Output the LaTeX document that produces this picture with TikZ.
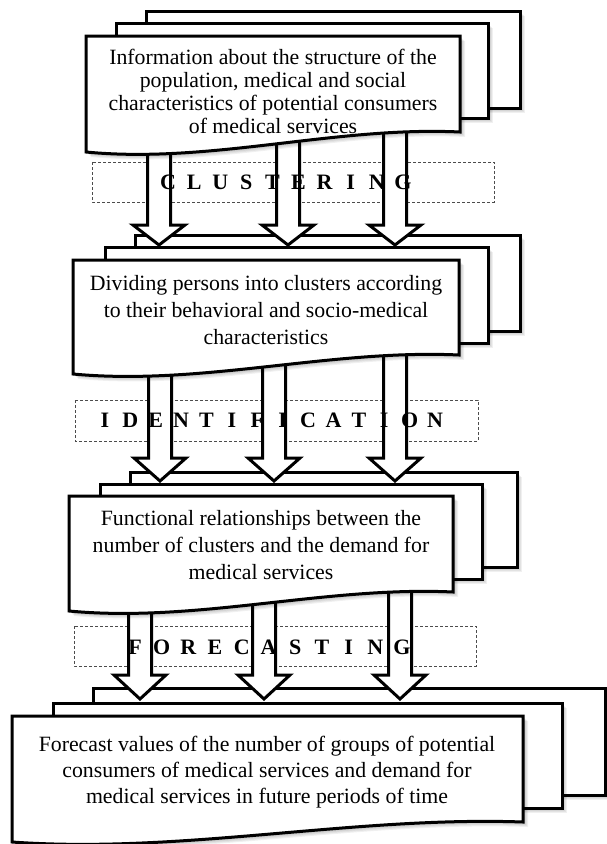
\documentclass[tikz,border=0pt]{standalone}
\usepackage{fontspec}
\setmainfont{Liberation Serif}
\tikzset{
  boxline/.style={line width=3pt, draw=black, fill=white, line join=miter},
  arrowline/.style={line width=3pt, draw=black, fill=white, line join=miter},
  dashbox/.style={draw=black!70, line width=0.8pt, dash pattern=on 3pt off 2pt},
  maintext/.style={align=center, inner sep=0pt},
  labeltext/.style={inner sep=0pt, font=\fontsize{22}{26}\selectfont\bfseries},
  shadowlayer/.style={fill=black, opacity=0.06},
}
\newlength\letterpitch
\def\spacedaux#1{\ifx#1\relax\else\makebox[\letterpitch]{#1}\expandafter\spacedaux\fi}
\newcommand\spacedword[2]{\setlength\letterpitch{#1}\spacedaux#2\relax}
% back page: x1 y1 x2 y2
\newcommand\backbox[4]{%
  \foreach \k in {1,...,5}{\fill[shadowlayer,shift={(\k,\k)}] (#1,#2) rectangle (#3,#4);}
  \filldraw[boxline] (#1,#2) rectangle (#3,#4);}
% front page with wavy bottom: xL yT xR yBR drop
\newcommand\frontbox[5]{%
  \foreach \k in {1,...,5}{\fill[shadowlayer,shift={(\k,\k)}] (#1,#2) -- (#3,#2) -- (#3,#4)
     .. controls ({#1+2*(#3-#1)/3},{#4-6}) and ({#1+(#3-#1)/3},{#4+#5+12}) .. (#1,{#4+#5}) -- cycle;}
  \filldraw[boxline] (#1,#2) -- (#3,#2) -- (#3,#4)
     .. controls ({#1+2*(#3-#1)/3},{#4-6}) and ({#1+(#3-#1)/3},{#4+#5+12}) .. (#1,{#4+#5}) -- cycle;}
% block arrow: cx ystart yheadbase ytip
\newcommand\blockarrow[4]{%
  \filldraw[arrowline] ({#1-11.5},#2) -- ({#1-11.5},#3) -- ({#1-26},#3) -- (#1,#4)
     -- ({#1+26},#3) -- ({#1+11.5},#3) -- ({#1+11.5},#2) -- cycle;}
\begin{document}
\begin{tikzpicture}[x=1pt,y=-1pt]
\useasboundingbox (0,0) rectangle (606,844);

% dashed stage frames
\draw[dashbox] (92,162) rectangle (494,202);
\draw[dashbox] (75,400) rectangle (478,441);
\draw[dashbox] (74,626) rectangle (476,666);

% block 4
\backbox{93}{688}{605}{795}
\backbox{53}{703}{562}{808}
\frontbox{12}{716}{523}{822}{20}
\node[maintext, font=\fontsize{21.8}{26}\selectfont] (t4) at (267,772)
  {Forecast values of the number of groups of potential\\consumers of medical services and demand for\\medical services in future periods of time};

% arrows 3 -> 4
\blockarrow{140}{585}{675}{699}
\blockarrow{264}{585}{675}{699}
\blockarrow{400}{570}{675}{699}

% block 3
\backbox{130}{472}{517}{567}
\backbox{100}{484}{482}{579}
\frontbox{69}{496}{453}{592}{19}
\node[maintext, font=\fontsize{21.8}{27}\selectfont] (t3) at (261,545)
  {Functional relationships between the\\number of clusters and the demand for\\medical services};

% arrows 2 -> 3
\blockarrow{160}{350}{458}{481}
\blockarrow{274}{350}{458}{481}
\blockarrow{395}{340}{458}{481}

% block 2
\backbox{135}{235}{520}{331}
\backbox{105}{247}{488}{343}
\frontbox{73}{260}{459}{355}{19}
\node[maintext, font=\fontsize{21.8}{27}\selectfont] (t2) at (266,310)
  {Dividing persons into clusters according\\to their behavioral and socio-medical\\characteristics};

% arrows 1 -> 2
\blockarrow{159}{130}{225}{245}
\blockarrow{288}{130}{225}{245}
\blockarrow{395}{120}{225}{245}

% block 1
\backbox{146}{11}{520}{108}
\backbox{116}{23}{488}{118}
\frontbox{86}{36}{460}{132}{20}
\node[maintext, font=\fontsize{21.8}{23}\selectfont] (t1) at (273,91)
  {Information about the structure of the\\population, medical and social\\characteristics of potential consumers\\of medical services};

% stage labels
\node[labeltext] (l1) at (285.5,182) {\spacedword{26.1pt}{CLUSTERING}};
\node[labeltext] (l2) at (270,420) {\spacedword{25.4pt}{IDENTIFICATION}};
\node[labeltext] (l3) at (268.5,647) {\spacedword{26.7pt}{FORECASTING}};
\end{tikzpicture}
\end{document}
